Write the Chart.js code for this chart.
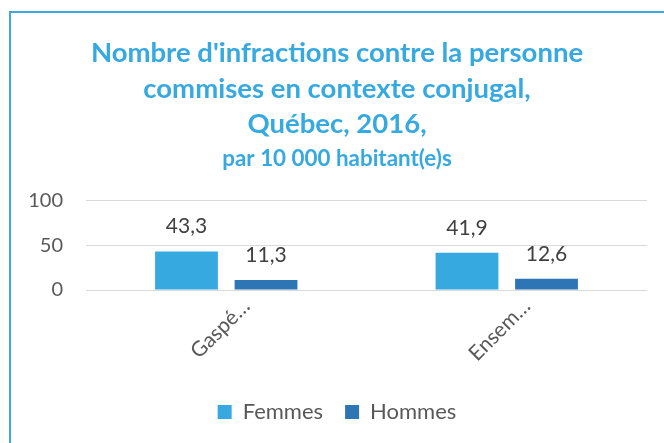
<!DOCTYPE html>
<html>
<head>
<meta charset="utf-8">
<script src="https://cdn.jsdelivr.net/npm/chart.js@4"></script>
<style>
  body { margin: 0; background: #fff; }
  #wrap { position: relative; width: 664px; height: 443px; overflow: hidden; }
  #frame { position: absolute; left: 9px; top: 11px; width: 700px; height: 500px;
           border-left: 2px solid #41A7DF; border-top: 2px solid #41A7DF; pointer-events: none; }
  canvas { position: absolute; left: 0; top: 0; }
</style>
</head>
<body>
<div id="wrap">
  <div id="frame"></div>
  <canvas id="chart" width="664" height="443"></canvas>
</div>
<script>
// data
const categories = ['Gaspé…', 'Ensem…'];
const femmes = [43.3, 41.9];
const hommes = [11.3, 12.6];
const seriesNames = ['Femmes', 'Hommes'];
const titleLines = [
    "Nombre d'infractions contre la personne",
    'commises en contexte conjugal,',
    'Québec, 2016,'
];
const subtitleText = 'par 10 000 habitant(e)s';

const titleColor = '#36A9E1';
const textColor = '#595959';

// values above bars, french decimal comma
const valueLabels = {
    id: 'valueLabels',
    afterDatasetsDraw(chart) {
        const ctx = chart.ctx;
        ctx.save();
        ctx.font = '21px Lato';
        ctx.fillStyle = '#404040';
        ctx.textAlign = 'center';
        ctx.textBaseline = 'alphabetic';
        chart.data.datasets.forEach((ds, i) => {
            chart.getDatasetMeta(i).data.forEach((bar, j) => {
                ctx.fillText(ds.data[j].toFixed(1).replace('.', ','), bar.x, bar.y - 18);
            });
        });
        ctx.restore();
    }
};

new Chart(document.getElementById('chart'), {
    type: 'bar',
    data: {
        labels: categories,
        datasets: [
            { label: seriesNames[0], data: femmes, backgroundColor: '#36A9E1' },
            { label: seriesNames[1], data: hommes, backgroundColor: '#2E75B6' }
        ]
    },
    options: {
        responsive: false,
        animation: false,
        categoryPercentage: 0.567,
        barPercentage: 0.79,
        layout: { padding: { top: 20, left: 27, right: 17, bottom: 10 } },
        plugins: {
            title: {
                display: true,
                text: titleLines,
                color: titleColor,
                font: { family: 'Lato', size: 27.5, weight: 'bold', lineHeight: 1.291 },
                padding: { top: 15.5, bottom: 0 }
            },
            subtitle: {
                display: true,
                text: subtitleText,
                color: titleColor,
                font: { family: 'Lato', size: 22.4, weight: 'bold', lineHeight: 1.16 },
                padding: { top: 4, bottom: 29 }
            },
            legend: {
                position: 'bottom',
                labels: {
                    boxWidth: 14,
                    boxHeight: 14,
                    padding: 22,
                    color: textColor,
                    font: { family: 'Lato', size: 22 }
                }
            },
            tooltip: { enabled: false }
        },
        scales: {
            x: {
                grid: { display: false },
                border: { display: false },
                ticks: {
                    color: textColor,
                    font: { family: 'Lato', size: 21 },
                    minRotation: 45,
                    maxRotation: 45,
                    autoSkip: false,
                    padding: -4,
                    labelOffset: 20
                },
                afterFit(scale) { scale.height = 89; }
            },
            y: {
                min: 0,
                max: 100,
                grid: { color: '#D9D9D9', drawTicks: false },
                border: { display: false },
                ticks: {
                    stepSize: 50,
                    color: textColor,
                    font: { family: 'Lato', size: 20 },
                    padding: 23
                },
                afterFit(scale) { scale.width = 59; }
            }
        }
    },
    plugins: [valueLabels]
});
</script>
</body>
</html>
